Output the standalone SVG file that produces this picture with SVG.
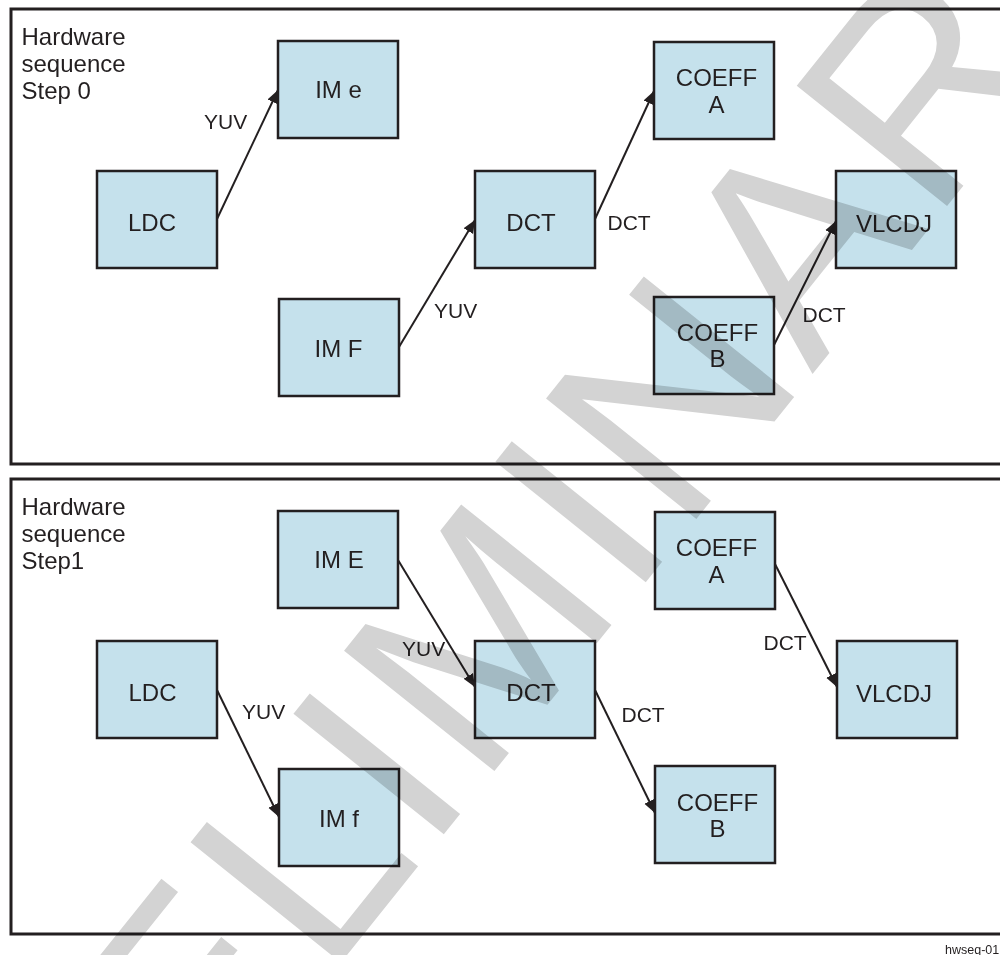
<svg xmlns="http://www.w3.org/2000/svg" width="1000" height="955" viewBox="0 0 1000 955">
<style>
.panel{fill:none;stroke:#231f20;stroke-width:3}
.box{fill:#c5e1ec;stroke:#231f20;stroke-width:2.5}
.lbl{font-family:"Liberation Sans",Arial,sans-serif;font-size:24px;fill:#231f20;text-anchor:middle}
.title{font-family:"Liberation Sans",Arial,sans-serif;font-size:24px;fill:#231f20}
.clbl{font-family:"Liberation Sans",Arial,sans-serif;font-size:21px;fill:#231f20}
.conn{stroke:#231f20;stroke-width:2;fill:none;marker-end:url(#arr)}
.wm{font-family:"Liberation Sans",Arial,sans-serif;font-size:280px;fill:#d3d3d3;letter-spacing:6px;mix-blend-mode:multiply}
</style>
<defs>
<marker id="arr" markerUnits="userSpaceOnUse" markerWidth="14" markerHeight="12" viewBox="0 0 14 12" refX="13" refY="6" orient="auto">
<path d="M0,0.5 L13,6 L0,11.5 Z" fill="#231f20"/>
</marker>
</defs>
<rect width="1000" height="955" fill="#ffffff"/>

<g id="panel0">
<rect class="panel" x="11" y="9" width="1000" height="455"/>
<text class="title" x="21.5" y="45">Hardware</text>
<text class="title" x="21.5" y="72">sequence</text>
<text class="title" x="21.5" y="99">Step 0</text>
</g>
<g id="panel1">
<rect class="panel" x="11" y="479" width="1000" height="455"/>
<text class="title" x="21.5" y="515">Hardware</text>
<text class="title" x="21.5" y="542">sequence</text>
<text class="title" x="21.5" y="569">Step1</text>
</g>

<g id="s0_ime"><rect class="box" x="278" y="41" width="120" height="97"/><text class="lbl" x="338.5" y="98">IM e</text></g>
<g id="s0_ldc"><rect class="box" x="97" y="171" width="120" height="97"/><text class="lbl" x="152" y="231">LDC</text></g>
<g id="s0_imf"><rect class="box" x="279" y="299" width="120" height="97"/><text class="lbl" x="338.5" y="357">IM F</text></g>
<g id="s0_dct"><rect class="box" x="475" y="171" width="120" height="97"/><text class="lbl" x="531" y="231">DCT</text></g>
<g id="s0_coeffa"><rect class="box" x="654" y="42" width="120" height="97"/><text class="lbl" x="716.5" y="86">COEFF</text><text class="lbl" x="716.5" y="113">A</text></g>
<g id="s0_vlcdj"><rect class="box" x="836" y="171" width="120" height="97"/><text class="lbl" x="894" y="232">VLCDJ</text></g>
<g id="s0_coeffb"><rect class="box" x="654" y="297" width="120" height="97"/><text class="lbl" x="717.5" y="341">COEFF</text><text class="lbl" x="717.5" y="367">B</text></g>

<g id="s1_ime"><rect class="box" x="278" y="511" width="120" height="97"/><text class="lbl" x="339" y="568">IM E</text></g>
<g id="s1_ldc"><rect class="box" x="97" y="641" width="120" height="97"/><text class="lbl" x="152.5" y="701">LDC</text></g>
<g id="s1_imf"><rect class="box" x="279" y="769" width="120" height="97"/><text class="lbl" x="339" y="827">IM f</text></g>
<g id="s1_dct"><rect class="box" x="475" y="641" width="120" height="97"/><text class="lbl" x="531" y="701">DCT</text></g>
<g id="s1_coeffa"><rect class="box" x="655" y="512" width="120" height="97"/><text class="lbl" x="716.5" y="556">COEFF</text><text class="lbl" x="716.5" y="583">A</text></g>
<g id="s1_vlcdj"><rect class="box" x="837" y="641" width="120" height="97"/><text class="lbl" x="894" y="702">VLCDJ</text></g>
<g id="s1_coeffb"><rect class="box" x="655" y="766" width="120" height="97"/><text class="lbl" x="717.5" y="811">COEFF</text><text class="lbl" x="717.5" y="837">B</text></g>

<g id="connectors">
<line class="conn" x1="217" y1="219" x2="278" y2="90"/>
<line class="conn" x1="399" y1="347" x2="475" y2="220"/>
<line class="conn" x1="595" y1="219" x2="654" y2="91"/>
<line class="conn" x1="774" y1="345" x2="836" y2="221"/>
<line class="conn" x1="398" y1="560" x2="475" y2="687"/>
<line class="conn" x1="217" y1="690" x2="279" y2="817"/>
<line class="conn" x1="775" y1="564" x2="837" y2="687"/>
<line class="conn" x1="595" y1="690" x2="655" y2="813"/>
<text class="clbl" x="204" y="129">YUV</text>
<text class="clbl" x="434" y="318">YUV</text>
<text class="clbl" x="607.5" y="230">DCT</text>
<text class="clbl" x="802.5" y="322">DCT</text>
<text class="clbl" x="402" y="656">YUV</text>
<text class="clbl" x="242" y="719">YUV</text>
<text class="clbl" x="763.5" y="650">DCT</text>
<text class="clbl" x="621.5" y="722">DCT</text>
</g>

<text x="945" y="954" font-family="Liberation Sans, Arial, sans-serif" font-size="12.5" fill="#231f20">hwseq-01</text>

<text class="wm" transform="translate(-44.7,1444) rotate(-51.3)">PRELIMINARY</text>
</svg>
